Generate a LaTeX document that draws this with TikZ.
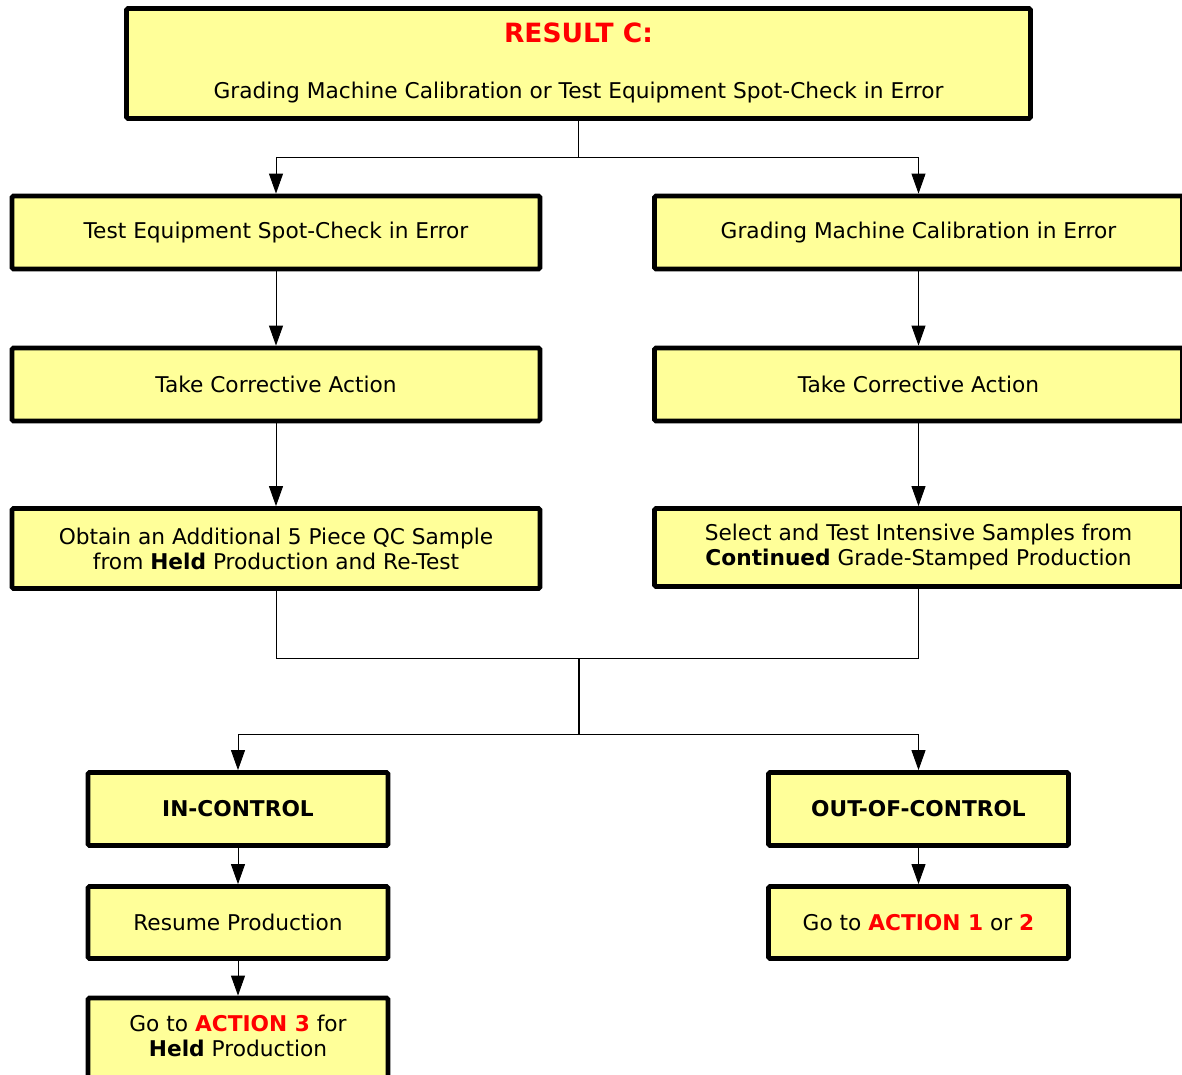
\documentclass[tikz,border=0pt]{standalone}
\usepackage{fontspec}
\setmainfont{DejaVu Sans}
\usetikzlibrary{arrows.meta}
\definecolor{boxyellow}{HTML}{FFFF99}
\definecolor{resred}{HTML}{FF0000}
\tikzset{
  box/.style={draw=black, line width=4.8pt, rounded corners=1.5pt, fill=boxyellow, inner sep=0pt, align=center, font=\fontsize{21.7}{25}\selectfont},
  conn/.style={line width=0.9pt, draw=black},
  arr/.style={conn, -{Triangle[width=14pt,length=20pt]}},
  txt/.style={inner sep=0pt, align=center, font=\fontsize{21.7}{25}\selectfont},
}
\begin{document}
\begin{tikzpicture}[x=1pt,y=-1pt]
\useasboundingbox (0,0) rectangle (1182,1074);
% top box
\node[box, minimum width=904pt, minimum height=110pt] (top) at (578.5,63.5) {};
\node[txt, text=resred, font=\fontsize{26.5}{28}\selectfont\bfseries] (title) at (578.5,33) {RESULT C:};
\node[txt] (sub) at (578.5,93) {Grading Machine Calibration or Test Equipment Spot-Check in Error};
% left column
\node[box, minimum width=528pt, minimum height=73pt] (l1) at (276,232.5) {Test Equipment Spot-Check in Error};
\node[box, minimum width=528pt, minimum height=73pt] (l2) at (276,384.5) {Take Corrective Action};
\node[box, minimum width=528pt, minimum height=80pt] (l3) at (276,548.5) {Obtain an Additional 5 Piece QC Sample\\from \textbf{Held} Production and Re-Test};
% right column
\node[box, minimum width=528pt, minimum height=73pt] (r1) at (918.5,232.5) {Grading Machine Calibration in Error};
\node[box, minimum width=528pt, minimum height=73pt] (r2) at (918.5,384.5) {Take Corrective Action};
\node[box, minimum width=528pt, minimum height=78pt] (r3) at (918.5,547.5) {Select and Test Intensive Samples from\\\textbf{Continued} Grade-Stamped Production};
% bottom
\node[box, minimum width=300pt, minimum height=73pt] (inc) at (238,809) {\textbf{IN-CONTROL}};
\node[box, minimum width=300pt, minimum height=72pt] (res) at (238,922.5) {Resume Production};
\node[box, minimum width=300pt, minimum height=84pt] (act3) at (238,1040) {Go to \textcolor{resred}{\textbf{ACTION 3}} for\\\textbf{Held} Production\\[-17pt]};
\node[box, minimum width=300pt, minimum height=73pt] (out) at (918.5,809) {\textbf{OUT-OF-CONTROL}};
\node[box, minimum width=300pt, minimum height=72pt] (act12) at (918.5,922.5) {Go to \textcolor{resred}{\textbf{ACTION 1}} or \textcolor{resred}{\textbf{2}}};
% junctions
\coordinate (j1) at (578.5,157);
\coordinate (j2) at (578.5,658);
\coordinate (j3) at (578.5,734);
% connectors
\draw[conn] (top.south) -- (j1);
\draw[arr] (j1) -| (l1.north);
\draw[arr] (j1) -| (r1.north);
\draw[arr] (l1.south) -- (l2.north);
\draw[arr] (l2.south) -- (l3.north);
\draw[arr] (r1.south) -- (r2.north);
\draw[arr] (r2.south) -- (r3.north);
\draw[conn] (l3.south) |- (j2) -| (r3.south);
\draw[conn, line width=2pt] (j2) -- (j3);
\draw[arr] (j3) -| (inc.north);
\draw[arr] (j3) -| (out.north);
\draw[arr] (inc.south) -- (res.north);
\draw[arr] (res.south) -- (act3.north);
\draw[arr] (out.south) -- (act12.north);
\end{tikzpicture}
\end{document}
